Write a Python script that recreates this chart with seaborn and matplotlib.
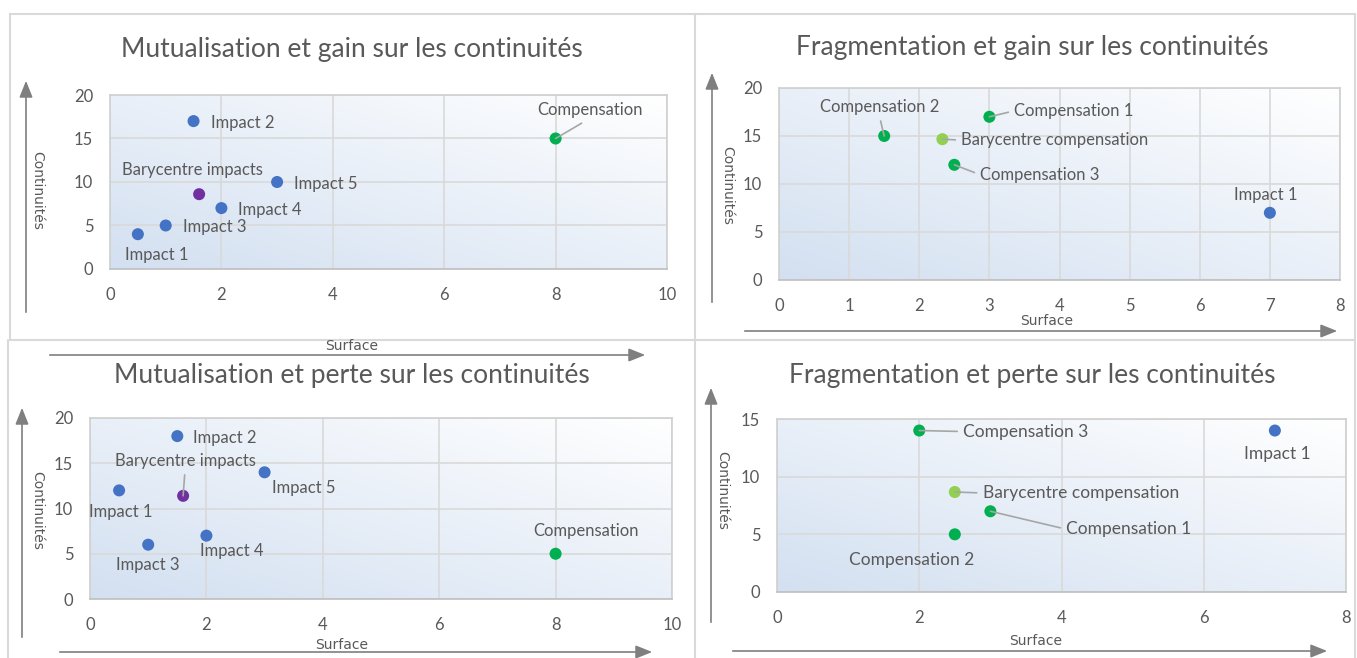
import numpy as np
import pandas as pd
import seaborn as sns
import matplotlib.pyplot as plt
from matplotlib.colors import LinearSegmentedColormap
from matplotlib.patches import FancyArrowPatch

sns.set_style("white")
plt.rcParams['font.family'] = ['Lato', 'DejaVu Sans']

# Mutualisation et gain sur les continuités
mg_labels = ["Impact 1", "Impact 2", "Impact 3", "Impact 4", "Impact 5", "Barycentre impacts", "Compensation"]
mg_x = [0.5, 1.5, 1, 2, 3, 1.6, 8]
mg_y = [4, 17, 5, 7, 10, 8.6, 15]
mg_kind = ["impact", "impact", "impact", "impact", "impact", "bary_imp", "comp"]

# Fragmentation et gain sur les continuités
fg_labels = ["Compensation 1", "Compensation 2", "Compensation 3", "Barycentre compensation", "Impact 1"]
fg_x = [3, 1.5, 2.5, 2.33, 7]
fg_y = [17, 15, 12, 14.67, 7]
fg_kind = ["comp", "comp", "comp", "bary_comp", "impact"]

# Mutualisation et perte sur les continuités
mp_labels = ["Impact 1", "Impact 2", "Impact 3", "Impact 4", "Impact 5", "Barycentre impacts", "Compensation"]
mp_x = [0.5, 1.5, 1, 2, 3, 1.6, 8]
mp_y = [12, 18, 6, 7, 14, 11.4, 5]
mp_kind = ["impact", "impact", "impact", "impact", "impact", "bary_imp", "comp"]

# Fragmentation et perte sur les continuités
fp_labels = ["Compensation 3", "Barycentre compensation", "Compensation 1", "Compensation 2", "Impact 1"]
fp_x = [2, 2.5, 3, 2.5, 7]
fp_y = [14, 8.67, 7, 5, 14]
fp_kind = ["comp", "bary_comp", "comp", "comp", "impact"]

palette = {"impact": "#4472C4", "comp": "#00B050", "bary_imp": "#7030A0", "bary_comp": "#92D050"}
grey = "#595959"
narrow = ["Liberation Sans Narrow", "DejaVu Sans"]

W, H = 1357, 658
fig = plt.figure(figsize=(W / 100, H / 100), dpi=100)


# everything below is placed in pixels from the top-left corner
def fig_line(x0, y0, x1, y1, **kw):
    fig.add_artist(plt.Line2D([x0 / W, x1 / W], [1 - y0 / H, 1 - y1 / H], transform=fig.transFigure, **kw))


# panel borders
for seg in [(10, 14, 1355, 14), (10, 14, 10, 340), (695, 14, 695, 658), (1355, 14, 1355, 658),
            (10, 340, 1355, 340), (8, 340, 8, 658)]:
    fig_line(*seg, color="#D9D9D9", lw=1.5)


def arrow(x0, y0, x1, y1):
    fig.patches.append(FancyArrowPatch(
        (x0 / W, 1 - y0 / H), (x1 / W, 1 - y1 / H), transform=fig.transFigure,
        arrowstyle="-|>,head_length=10,head_width=4", color="#7F7F7F", lw=1.2, mutation_scale=1))


cmap = LinearSegmentedColormap.from_list("bg", ["#D3E0F1", "#FFFFFF"])
grad = np.add.outer(np.linspace(0, 1, 100), np.linspace(0, 1, 100)) / 2


def panel(box, title, title_pos, xs, ys, labels, kinds, xmax, xstep, ymax, ystep,
          offsets, leaders, vline, hline, cont_pos, surf_pos, fs):
    l, t, r, b = box
    ax = fig.add_axes([l / W, 1 - b / H, (r - l) / W, (b - t) / H])
    ax.imshow(grad, extent=[0, 1, 0, 1], transform=ax.transAxes, cmap=cmap, origin="lower",
              aspect="auto", zorder=0)
    df = pd.DataFrame({"x": xs, "y": ys, "label": labels, "kind": kinds})
    sns.scatterplot(data=df, x="x", y="y", hue="kind", palette=palette, s=75, linewidth=0,
                    legend=False, ax=ax, zorder=3)
    ax.set_xlim(0, xmax)
    ax.set_ylim(0, ymax)
    ax.set_xticks(np.arange(0, xmax + 0.01, xstep))
    ax.set_yticks(np.arange(0, ymax + 0.01, ystep))
    ax.grid(True, color="#D9D9D9", lw=1.2)
    for sp in ax.spines.values():
        sp.set_color("#D0D0D0")
        sp.set_linewidth(1.2)
    ax.spines["bottom"].set_color("#BFBFBF")
    ax.tick_params(length=0, labelsize=12, labelcolor=grey, pad=13)
    ax.tick_params(axis="y", pad=12)
    ax.set_xlabel("")
    ax.set_ylabel("")
    for i, lab in enumerate(labels):
        dx, dy, ha = offsets[i]
        props = None
        if leaders[i]:
            props = dict(arrowstyle="-", color="#A6A6A6", lw=1.2, shrinkA=2, shrinkB=0,
                         relpos=leaders[i])
        ax.annotate(lab, (xs[i], ys[i]), xytext=(dx, -dy), textcoords="offset pixels",
                    ha=ha, va="center", fontsize=fs, color=grey, arrowprops=props, zorder=4)
    fig.text(title_pos[0] / W, 1 - title_pos[1] / H, title, ha="center", va="center",
             fontsize=19, color=grey)
    arrow(*vline)
    arrow(*hline)
    fig.text(cont_pos[0] / W, 1 - cont_pos[1] / H, "Continuités", rotation=-90, ha="center",
             va="center", fontsize=10, color=grey, family=narrow)
    fig.text(surf_pos[0] / W, 1 - surf_pos[1] / H, "Surface", ha="center", va="center",
             fontsize=10, color=grey, family=narrow)


panel((110, 95, 667, 269), "Mutualisation et gain sur les continuités", (352, 50),
      mg_x, mg_y, mg_labels, mg_kind, 10, 2, 20, 5,
      [(19, 21, "center"), (17, 2, "left"), (17, 2, "left"), (17, 2, "left"), (17, 2, "left"),
       (-7, -24, "center"), (34, -28, "center")],
      [None, None, None, None, None, None, (0.5, 0)],
      (26, 315, 26, 78), (47, 355, 648, 355), (37, 190), (352, 346), 12)

panel((779, 88, 1340, 280), "Fragmentation et gain sur les continuités", (1032, 47),
      fg_x, fg_y, fg_labels, fg_kind, 8, 1, 20, 5,
      [(25, -6, "left"), (-5, -29, "center"), (26, 10, "left"), (19, 1, "left"), (-4, -18, "center")],
      [(0, 0.5), (0.5, 0), (0, 0.5), (0, 0.5), None],
      (712, 305, 712, 70), (742, 331, 1340, 331), (727, 185), (1047, 321), 12)

panel((90, 418, 672, 599), "Mutualisation et perte sur les continuités", (352, 375),
      mp_x, mp_y, mp_labels, mp_kind, 10, 2, 20, 5,
      [(2, 22, "center"), (16, 2, "left"), (0, 20, "center"), (25, 15, "center"), (39, 16, "center"),
       (2, -35, "center"), (30, -23, "center")],
      [None, None, None, None, None, (0.5, 0), None],
      (22, 640, 22, 405), (57, 652, 655, 652), (37, 510), (342, 645), 12)

panel((777, 419, 1346, 592), "Fragmentation et perte sur les continuités", (1032, 376),
      fp_x, fp_y, fp_labels, fp_kind, 8, 2, 15, 5,
      [(44, 1, "left"), (28, 1, "left"), (76, 18, "left"), (-43, 26, "center"), (2, 23, "center")],
      [(0, 0.5), (0, 0.5), (0, 0.5), None, None],
      (711, 625, 711, 385), (730, 651, 1330, 651), (722, 490), (1036, 641), 12.5)

fig.savefig("out.png", dpi=100)
